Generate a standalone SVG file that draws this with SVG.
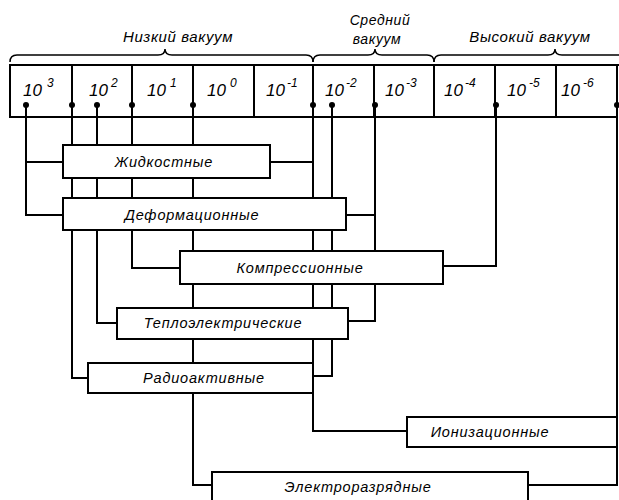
<svg xmlns="http://www.w3.org/2000/svg" width="619" height="500" viewBox="0 0 619 500">
<style>
.ln{fill:none;stroke:#000;stroke-width:2}
.br{fill:none;stroke:#000;stroke-width:1.5}
.box{fill:#fff;stroke:#000;stroke-width:2}
.t{font-family:"Liberation Sans",Arial,sans-serif;font-style:italic;font-size:14.5px;letter-spacing:0.8px;fill:#000}
.h{font-family:"Liberation Sans",Arial,sans-serif;font-style:italic;font-size:15px;letter-spacing:0.6px;fill:#000}
.m{font-size:14px}
.n{font-family:"Liberation Sans",Arial,sans-serif;font-style:italic;font-size:17px;fill:#000}
.s{font-size:12px}
.d{fill:#000}
</style>
<rect width="619" height="500" fill="#fff"/>
<g id="headers">
<path class="br" d="M10,62 Q10,55 17,55 L158,55 Q165,55 165,49 Q165,55 172,55 L306,55 Q313,55 313,62"/>
<path class="br" d="M313,62 Q313,55 320,55 L368,55 Q375,55 375,49 Q375,55 382,55 L427,55 Q434,55 434,62"/>
<path class="br" d="M434,62 Q434,55 441,55 L548,55 Q555,55 555,49 Q555,55 562,55 L619,55"/>
<text class="h" x="178" y="42" text-anchor="middle">Низкий вакуум</text>
<text class="h m" x="380" y="25" text-anchor="middle">Средний</text>
<text class="h m" x="377" y="44" text-anchor="middle">вакуум</text>
<text class="h" x="530" y="42" text-anchor="middle">Высокий вакуум</text>
</g>
<g id="scale">
<path class="ln" d="M619,65 H10 V117 H617 M72,65 V117 M132,65 V117 M193,65 V117 M254,65 V117 M313,65 V117 M374,65 V117 M434,65 V117 M495,65 V117 M556,65 V117 M617,65 V117"/>
<text class="n" x="23" y="96">10<tspan class="s" dx="5" dy="-9">3</tspan></text>
<text class="n" x="89" y="96">10<tspan class="s" dx="3" dy="-9">2</tspan></text>
<text class="n" x="147" y="96">10<tspan class="s" dx="4" dy="-9">1</tspan></text>
<text class="n" x="207" y="96">10<tspan class="s" dx="4" dy="-9">0</tspan></text>
<text class="n" x="266" y="96">10<tspan class="s" dx="2" dy="-9">-1</tspan></text>
<text class="n" x="325" y="96">10<tspan class="s" dx="2" dy="-9">-2</tspan></text>
<text class="n" x="385" y="96">10<tspan class="s" dx="2" dy="-9">-3</tspan></text>
<text class="n" x="444" y="96">10<tspan class="s" dx="2" dy="-9">-4</tspan></text>
<text class="n" x="507" y="96">10<tspan class="s" dx="3" dy="-9">-5</tspan></text>
<text class="n" x="561" y="96">10<tspan class="s" dx="3" dy="-9">-6</tspan></text>
</g>
<g id="connectors">
<path class="ln" d="M26,105 V215 H63 M26,162 H63"/>
<path class="ln" d="M72,105 V378 H88"/>
<path class="ln" d="M97,105 V323 H117"/>
<path class="ln" d="M132,105 V268 H180"/>
<path class="ln" d="M193,105 V485 H212"/>
<path class="ln" d="M313,105 V431 H407 M270,162 H313"/>
<path class="ln" d="M332,105 V376 H313"/>
<path class="ln" d="M375,105 V321 H348 M346,215 H375"/>
<path class="ln" d="M496,105 V266 H443"/>
<path class="ln" d="M617,105 V485 H528"/>
<circle class="d" cx="26" cy="105" r="3"/>
<circle class="d" cx="72" cy="105" r="3"/>
<circle class="d" cx="97" cy="105" r="3"/>
<circle class="d" cx="132" cy="105" r="3"/>
<circle class="d" cx="193" cy="105" r="3"/>
<circle class="d" cx="313" cy="105" r="3"/>
<circle class="d" cx="332" cy="105" r="3"/>
<circle class="d" cx="375" cy="105" r="3"/>
<circle class="d" cx="496" cy="105" r="3"/>
<circle class="d" cx="617" cy="105" r="3"/>
</g>
<g id="liquid"><rect class="box" x="63" y="145" width="207" height="33"/><text class="t" x="164" y="167" text-anchor="middle">Жидкостные</text></g>
<g id="deform"><rect class="box" x="63" y="198" width="283" height="32"/><text class="t" x="192" y="220" text-anchor="middle">Деформационные</text></g>
<g id="compress"><rect class="box" x="180" y="251" width="263" height="33"/><text class="t" x="300" y="273" text-anchor="middle">Компрессионные</text></g>
<g id="thermo"><rect class="box" x="117" y="308" width="231" height="31"/><text class="t" x="223" y="328" text-anchor="middle">Теплоэлектрические</text></g>
<g id="radio"><rect class="box" x="88" y="363" width="225" height="30"/><text class="t" x="204" y="383" text-anchor="middle">Радиоактивные</text></g>
<g id="ion"><rect class="box" x="407" y="417" width="210" height="30"/><text class="t" x="490" y="437" text-anchor="middle">Ионизационные</text></g>
<g id="discharge"><path class="box" d="M212,502 V472 H528 V502"/><text class="t" x="358" y="492" text-anchor="middle">Электроразрядные</text></g>
</svg>
